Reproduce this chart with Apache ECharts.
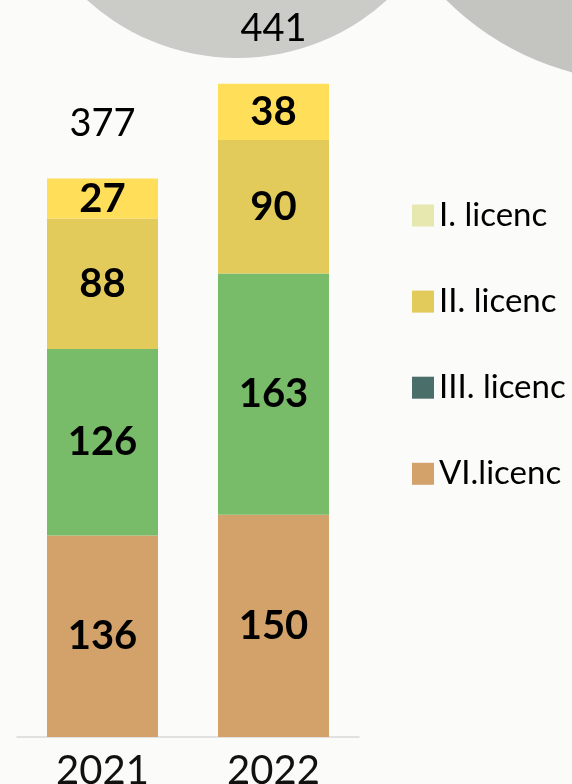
<!DOCTYPE html>
<html>
<head>
<meta charset="utf-8">
<script src="https://cdn.jsdelivr.net/npm/echarts@6/dist/echarts.min.js"></script>
<style>
  * { margin: 0; padding: 0; }
  body { background: #fbfbfa; }
  #main { width: 572px; height: 784px; }
</style>
</head>
<body>
<div id="main"></div>
<script>
  // kategorie a hodnoty
  var years = ['2021', '2022'];
  var lic6 = [136, 150];
  var lic3 = [126, 163];
  var lic2 = [88, 90];
  var lic1 = [27, 38];
  var totals = years.map(function (y, i) { return lic6[i] + lic3[i] + lic2[i] + lic1[i]; });

  var chart = echarts.init(document.getElementById('main'));

  var inLabel = {
    show: true,
    position: 'inside',
    fontFamily: 'Lato',
    fontWeight: 'bold',
    fontSize: 40,
    color: '#000'
  };

  chart.setOption({
    backgroundColor: '#fbfbfa',
    animation: false,
    // sede oblouky v pozadi (jen dekorace)
    graphic: [
      { type: 'circle', z: -10, shape: { cx: 237, cy: -165, r: 223 }, style: { fill: '#cbccc8' } },
      { type: 'circle', z: -10, shape: { cx: 645, cy: -200, r: 282 }, style: { fill: '#c4c5c0' } }
    ],
    grid: { left: 17, width: 342, top: 70.5, bottom: 47, outerBoundsMode: 'none', containLabel: false },
    legend: {
      orient: 'vertical',
      left: 407,
      top: 194,
      itemWidth: 22,
      itemHeight: 22,
      itemGap: 53.1,
      icon: 'rect',
      textStyle: { fontFamily: 'Lato', fontSize: 33, color: '#000' },
      data: [
        { name: 'I. licenc', itemStyle: { color: '#e6e8b0' } },
        { name: 'II. licenc', itemStyle: { color: '#e3cb5b' } },
        { name: 'III. licenc', itemStyle: { color: '#4a6e6a' } },
        { name: 'VI.licenc', itemStyle: { color: '#d2a26a' } }
      ]
    },
    xAxis: {
      type: 'category',
      data: years,
      axisLine: { lineStyle: { color: '#d9d9d9', width: 1.5 } },
      axisTick: { show: false },
      axisLabel: { fontFamily: 'Lato', fontSize: 40, color: '#111', margin: 14 }
    },
    yAxis: {
      type: 'value',
      min: 0,
      max: 450,
      show: false,
      splitLine: { show: false }
    },
    series: [
      { name: 'VI.licenc', type: 'bar', stack: 'a', barWidth: 111, data: lic6, itemStyle: { color: '#d2a26a' }, label: inLabel },
      { name: 'III. licenc', type: 'bar', stack: 'a', data: lic3, itemStyle: { color: '#78bb68' }, label: inLabel },
      { name: 'II. licenc', type: 'bar', stack: 'a', data: lic2, itemStyle: { color: '#e3cb5b' }, label: inLabel },
      { name: 'I. licenc', type: 'bar', stack: 'a', data: lic1, itemStyle: { color: '#ffde59' }, label: inLabel },
      {
        name: 'celkem', type: 'bar', stack: 'a',
        data: years.map(function () { return 0; }),
        itemStyle: { color: 'transparent' },
        label: {
          show: true,
          position: 'top',
          distance: 36,
          fontFamily: 'Lato',
          fontSize: 38,
          color: '#000',
          formatter: function (p) { return totals[p.dataIndex]; }
        }
      }
    ]
  });
</script>
</body>
</html>
